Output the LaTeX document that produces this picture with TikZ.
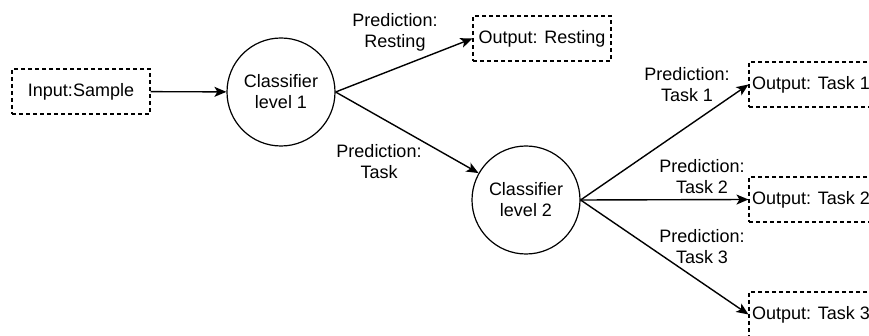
\documentclass[tikz,border=0pt]{standalone}
\usepackage{fontspec}
\setmainfont{Liberation Sans}
\usetikzlibrary{arrows.meta,positioning}
\tikzset{
  iobox/.style={draw,dash pattern=on 4pt off 3pt,line width=1.1pt,minimum width=138pt,minimum height=45pt,inner sep=0pt},
  classifier/.style={draw,circle,line width=1.2pt,minimum size=108pt,inner sep=0pt,align=center},
  predlabel/.style={align=center,inner sep=0pt},
  flow/.style={line width=1.4pt,-{Stealth[length=12pt,width=10pt,inset=3pt]}}
}

\begin{document}
\begin{tikzpicture}[x=1pt,y=-1pt,font=\fontsize{18}{21}\selectfont]
  \clip (0,0) rectangle (869,336);

  % Input and first classifier
  \node[iobox] (input) at (81,91.5) {Input:Sample};
  \node[classifier] (clfA) at (281,92) {Classifier\\level 1};

  % Second classifier
  \node[classifier] (clfB) at (526,200) {Classifier\\level 2};

  % Outputs (the task boxes run past the right edge)
  \node[iobox] (outRest) at (542,38.5) {Output: Resting};
  \node[iobox,minimum width=124pt] (outTaskA) at (811,84.5) {Output: Task 1};
  \node[iobox,minimum width=124pt] (outTaskB) at (811,199.5) {Output: Task 2};
  \node[iobox,minimum width=124pt] (outTaskC) at (811,314.5) {Output: Task 3};

  % Edge labels
  \node[predlabel] (labRest) at (395,32) {Prediction:\\Resting};
  \node[predlabel] (labTask) at (379,162) {Prediction:\\Task};
  \node[predlabel] (labTaskA) at (687,85) {Prediction:\\Task 1};
  \node[predlabel] (labTaskB) at (702,176.5) {Prediction:\\Task 2};
  \node[predlabel] (labTaskC) at (702,247) {Prediction:\\Task 3};

  % Connectors
  \draw[flow] (input) -- (clfA);
  \draw[flow] (clfA.east) -- (outRest.west);
  \draw[flow] (clfA.east) -- (clfB);
  \draw[flow] (clfB.east) -- (outTaskA.west);
  \draw[flow] (clfB.east) -- (outTaskB.west);
  \draw[flow] (clfB.east) -- (outTaskC.west);
\end{tikzpicture}
\end{document}
